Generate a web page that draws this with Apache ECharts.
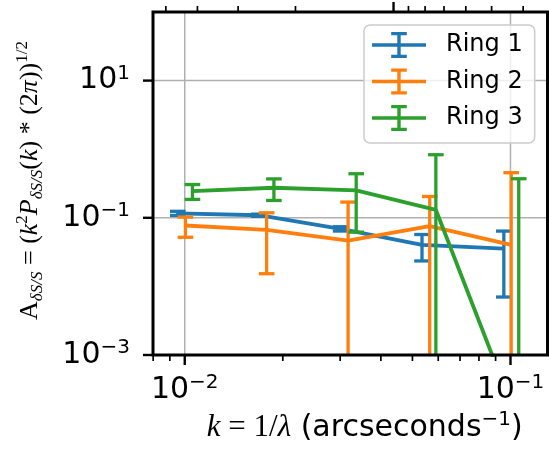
<!DOCTYPE html>
<html><head><meta charset="utf-8">
<script src="https://cdn.jsdelivr.net/npm/echarts@6/dist/echarts.min.js"></script>
<style>html,body{margin:0;padding:0;background:#fff}#c{width:549px;height:454px}</style>
</head><body><div id="c"></div>
<script>
// ---- data ----
const seriesNames = ['Ring 1', 'Ring 2', 'Ring 3'];
const ring1K = [0.00952, 0.01688, 0.0301, 0.0535, 0.0954];
const ring1A = [0.1163, 0.109, 0.0691, 0.0403, 0.0355];
const ring1Err = [0.008, 0.004, 0.005, 0.0168, 0.0285];
const ring2K = [0.01005, 0.01784, 0.03173, 0.0565, 0.1005];
const ring2A = [0.0772, 0.0668, 0.0466, 0.0757, 0.0404];
const ring2Err = [0.0252, 0.0515, 0.1229, 0.129, 0.414];
const ring3K = [0.01056, 0.01878, 0.0336, 0.059, 0.106];
const ring3A = [0.2454, 0.274, 0.2503, 0.1308, 0.0001];
const ring3Err = [0.06, 0.095, 0.1885, 0.70, 0.371];

// ---- ticks / labels ----
const xMajorTicks = [0.01, 0.1];
const xMinorTicks = [0.008, 0.009, 0.02, 0.03, 0.04, 0.05, 0.06, 0.07, 0.08, 0.09];
const xLabelExps = [-2, -1];
const yMajorTicks = [0.001, 0.1, 10];
const yLabelExps = [-3, -1, 1];
const topMajorTicks = [10];
const topMinorTicks = [4, 5, 6, 7, 8, 9, 20, 30, 40, 50];

const X_MIN = 0.00799, X_MAX = 0.1299, Y_MIN = 1e-3, Y_MAX = 100, TOP_C = 0.4375;
const COLORS = ['#1f77b4', '#ff7f0e', '#2ca02c'];

const tickRich = {
  b: {fontFamily: 'DejaVu Sans', fontSize: 30, color: '#000', lineHeight: 34},
  s: {fontFamily: 'DejaVu Sans', fontSize: 20, color: '#000', verticalAlign: 'top', lineHeight: 20}
};
function expFmt(allowed) {
  return function (v) {
    const l = Math.log10(v), e = Math.round(l);
    if (Math.abs(l - e) > 1e-6 || allowed.indexOf(e) < 0) return '';
    return '{b|10}{s|' + (e < 0 ? '\u2212' : '') + Math.abs(e) + '}';
  };
}

function errSeries(i, ks, as, errs) {
  const color = COLORS[i];
  return {
    type: 'custom', name: seriesNames[i], z: 3 + i, animation: false,
    itemStyle: {color: color},
    encode: {x: 0, y: 1},
    data: ks.map((k, j) => [k, as[j], errs[j]]),
    renderItem: function (params, api) {
      const k = api.value(0), v = api.value(1), e = api.value(2);
      const lo = v - e, hi = Math.min(v + e, Y_MAX);
      const clamped = lo <= Y_MIN;
      const pHi = api.coord([k, hi]);
      const pLo = api.coord([k, clamped ? Y_MIN : lo]);
      const cw = 7.8, lw = 3.3;
      const ch = [
        {type: 'line', shape: {x1: pHi[0], y1: pHi[1], x2: pLo[0], y2: pLo[1]}, style: {stroke: color, lineWidth: lw}},
        {type: 'line', shape: {x1: pHi[0] - cw, y1: pHi[1], x2: pHi[0] + cw, y2: pHi[1]}, style: {stroke: color, lineWidth: lw}}
      ];
      if (!clamped) ch.push({type: 'line', shape: {x1: pLo[0] - cw, y1: pLo[1], x2: pLo[0] + cw, y2: pLo[1]}, style: {stroke: color, lineWidth: lw}});
      return {type: 'group', children: ch};
    }
  };
}
function lineSeries(i, ks, as) {
  return {
    type: 'line', name: seriesNames[i] + ' ', z: 3 + i, animation: false, clip: true,
    symbol: 'none', data: ks.map((k, j) => [k, as[j]]),
    lineStyle: {color: COLORS[i], width: 3.8}, itemStyle: {color: COLORS[i]}
  };
}
function deco(data, xAxisIndex, fn) {
  return {type: 'custom', xAxisIndex: xAxisIndex, yAxisIndex: 0, z: 1, silent: true, animation: false,
    encode: {x: 0, y: 1}, data: data, renderItem: fn};
}
const bottomTickData = xMajorTicks.map(v => [v, Y_MIN, 1]).concat(xMinorTicks.map(v => [v, Y_MIN, 0]));
const topTickData = topMajorTicks.map(v => [v, Y_MAX, 1]).concat(topMinorTicks.map(v => [v, Y_MAX, 0]));
const leftTickData = yMajorTicks.map(v => [X_MIN, v, 1]);
const xGridData = xMajorTicks.map(v => [v, Y_MIN]);
const yGridData = yMajorTicks.filter(v => v > Y_MIN && v < Y_MAX).map(v => [X_MIN, v]);

const GRIDC = '#b0b0b0';
const series = [
  deco(xGridData, 0, (p, api) => {
    const a = api.coord([api.value(0), Y_MIN]), b = api.coord([api.value(0), Y_MAX]);
    return {type: 'line', shape: {x1: a[0], y1: a[1], x2: b[0], y2: b[1]}, style: {stroke: GRIDC, lineWidth: 1.5}};
  }),
  deco(yGridData, 0, (p, api) => {
    const a = api.coord([X_MIN, api.value(1)]), b = api.coord([X_MAX, api.value(1)]);
    return {type: 'line', shape: {x1: a[0], y1: a[1], x2: b[0], y2: b[1]}, style: {stroke: GRIDC, lineWidth: 1.5}};
  }),
  deco(bottomTickData, 0, (p, api) => {
    const a = api.coord([api.value(0), api.value(1)]); const m = api.value(2) === 1;
    return {type: 'line', shape: {x1: a[0], y1: a[1], x2: a[0], y2: a[1] + (m ? 10 : 6)}, style: {stroke: '#000', lineWidth: m ? 2.4 : 1.7}};
  }),
  deco(topTickData, 1, (p, api) => {
    const a = api.coord([api.value(0), api.value(1)]); const m = api.value(2) === 1;
    return {type: 'line', shape: {x1: a[0], y1: a[1], x2: a[0], y2: a[1] - (m ? 10 : 6)}, style: {stroke: '#000', lineWidth: m ? 2.4 : 1.7}};
  }),
  deco(leftTickData, 0, (p, api) => {
    const a = api.coord([api.value(0), api.value(1)]);
    return {type: 'line', shape: {x1: a[0], y1: a[1], x2: a[0] - 10, y2: a[1]}, style: {stroke: '#000', lineWidth: 2.4}};
  }),
  errSeries(0, ring1K, ring1A, ring1Err),
  errSeries(1, ring2K, ring2A, ring2Err),
  errSeries(2, ring3K, ring3A, ring3Err),
  lineSeries(0, ring1K, ring1A),
  lineSeries(1, ring2K, ring2A),
  lineSeries(2, ring3K, ring3A)
];

const LEG_ICON = 'path://M0,11.2h54v3.6h-54z M25.3,0h3.4v26h-3.4z M19.2,0h15.6v3.2h-15.6z M19.2,22.8h15.6v3.2h-15.6z';
const serif = 'Liberation Serif';
const option = {
  animation: false,
  backgroundColor: '#fff',
  grid: {left: 153, right: 1.5, top: 12, bottom: 99, show: true, borderColor: '#000', borderWidth: 3,
         backgroundColor: 'transparent', z: 30, containLabel: false, outerBoundsMode: 'none'},
  legend: {
    data: seriesNames.map(n => ({name: n, icon: LEG_ICON})),
    orient: 'vertical', left: 364, top: 25, itemWidth: 54, itemHeight: 26, itemGap: 10.5,
    padding: [7, 12, 12, 8], backgroundColor: 'rgba(255,255,255,0.8)', borderColor: '#cccccc',
    borderWidth: 1.5, borderRadius: 6, selectedMode: false, z: 50,
    itemStyle: {borderWidth: 0},
    textStyle: {fontFamily: 'DejaVu Sans', fontSize: 24, color: '#000', padding: [0, 0, 0, 15]}
  },
  xAxis: [
    {type: 'log', logBase: 10, min: X_MIN, max: X_MAX, position: 'bottom',
     axisLine: {show: false}, axisTick: {show: false}, splitLine: {show: false},
     minorTick: {show: false}, minorSplitLine: {show: false},
     axisLabel: {formatter: expFmt(xLabelExps), margin: 18, rich: tickRich},
     name: '{i|k}{m| = 1/}{i|\u03bb}{t| (arcseconds}{s|\u22121}{t|)}',
     nameLocation: 'middle', nameGap: 55, nameMoveOverlap: false,
     nameTextStyle: {padding: [0, 0, 0, 29], rich: {
       i: {fontFamily: serif, fontStyle: 'italic', fontSize: 31, color: '#000', lineHeight: 36},
       m: {fontFamily: serif, fontSize: 31, color: '#000', lineHeight: 36},
       t: {fontFamily: 'DejaVu Sans', fontSize: 30, color: '#000', lineHeight: 36},
       s: {fontFamily: 'DejaVu Sans', fontSize: 20, color: '#000', verticalAlign: 'top', lineHeight: 20}
     }}},
    {type: 'log', logBase: 10, min: TOP_C / X_MAX, max: TOP_C / X_MIN, inverse: true, position: 'top',
     axisLine: {show: false}, axisTick: {show: false}, axisLabel: {show: false}, splitLine: {show: false}}
  ],
  yAxis: {type: 'log', logBase: 10, min: Y_MIN, max: Y_MAX,
    axisLine: {show: false}, axisTick: {show: false}, splitLine: {show: false},
    minorTick: {show: false}, minorSplitLine: {show: false},
    axisLabel: {formatter: expFmt(yLabelExps), margin: 23, rich: tickRich},
    name: '{r|A}{sub|\u03b4S/S}{r| = (}{i|k}{sup|2}{i|P}{sub|\u03b4S/S}{r|(}{i|k}{r|) * (2}{i|\u03c0}{r|))}{sup|1/2}',
    nameLocation: 'middle', nameGap: 107, nameMoveOverlap: false,
    nameTextStyle: {padding: [0, 0, 0, 6], rich: {
      r: {fontFamily: serif, fontSize: 26, color: '#000', lineHeight: 32},
      i: {fontFamily: serif, fontStyle: 'italic', fontSize: 26, color: '#000', lineHeight: 32},
      sub: {fontFamily: serif, fontStyle: 'italic', fontSize: 17, color: '#000', verticalAlign: 'bottom', lineHeight: 17},
      sup: {fontFamily: serif, fontSize: 17, color: '#000', verticalAlign: 'top', lineHeight: 17}
    }}
  },
  series: series
};
const chart = echarts.init(document.getElementById('c'), null, {renderer: 'canvas'});
chart.setOption(option);
</script>
</body></html>
